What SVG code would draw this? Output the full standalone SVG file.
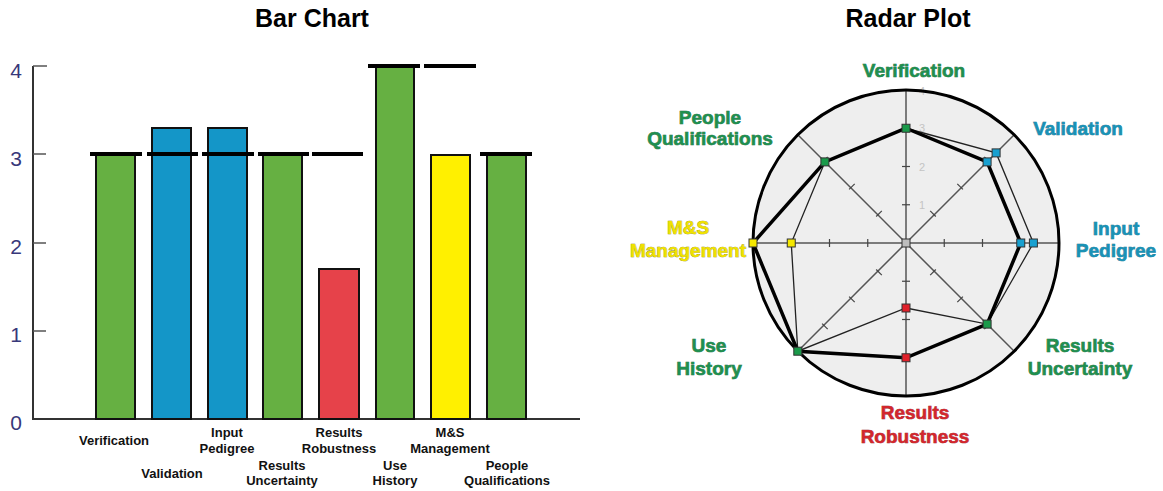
<svg xmlns="http://www.w3.org/2000/svg" width="1163" height="491" viewBox="0 0 1163 491">
<style>
.title{font-family:"Liberation Sans",Arial,sans-serif;font-weight:bold;font-size:25px;fill:#000;text-anchor:middle}
.ynum{font-family:"Liberation Sans",Arial,sans-serif;font-size:21px;fill:#38387a;text-anchor:middle}
.blab{font-family:"Liberation Sans",Arial,sans-serif;font-weight:bold;font-size:13px;fill:#111;text-anchor:middle}
.bar{stroke:#111;stroke-width:2}
.tgt{stroke:#000;stroke-width:4}
.axis{stroke:#333;stroke-width:2;fill:none}
.tick{stroke:#555;stroke-width:1.5}
.rlab{font-family:"Liberation Sans",Arial,sans-serif;font-weight:bold;font-size:19px;text-anchor:middle;stroke-width:0.6;paint-order:stroke}
.g{fill:#1f8f4f;stroke:#14663a}
.b{fill:#1992b6;stroke:#0f6b86}
.r{fill:#d3262d;stroke:#8f1a1f}
.y{fill:#efe100;stroke:#8a8000}
.spoke{stroke:#555;stroke-width:1.5}
.rt{stroke:#444;stroke-width:1.2}
.mk{stroke:#333;stroke-width:1}
.scl{font-family:"Liberation Sans",Arial,sans-serif;font-size:11px;fill:#c4c4c4}
</style>

<text class="title" x="312" y="27">Bar Chart</text>
<text class="title" x="908" y="27">Radar Plot</text>

<g id="bar-axis">
<line class="axis" x1="33" y1="66" x2="33" y2="420"/>
<line class="axis" x1="32" y1="419" x2="580" y2="419"/>
<line class="tick" x1="33" y1="66" x2="47" y2="66"/>
<line class="tick" x1="33" y1="154" x2="46" y2="154"/>
<line class="tick" x1="33" y1="243" x2="46" y2="243"/>
<line class="tick" x1="33" y1="331" x2="46" y2="331"/>
<text class="ynum" x="16" y="78">4</text>
<text class="ynum" x="16" y="166">3</text>
<text class="ynum" x="16" y="254">2</text>
<text class="ynum" x="16" y="342">1</text>
<text class="ynum" x="16" y="430">0</text>
</g>

<g id="bar-verification"><rect class="bar" x="96" y="154" width="39" height="265" fill="#66b042"/></g>
<g id="bar-validation"><rect class="bar" x="152" y="128" width="39" height="291" fill="#1496c8"/></g>
<g id="bar-input-pedigree"><rect class="bar" x="208" y="128" width="39" height="291" fill="#1496c8"/></g>
<g id="bar-results-uncertainty"><rect class="bar" x="263" y="154" width="39" height="265" fill="#66b042"/></g>
<g id="bar-results-robustness"><rect class="bar" x="319" y="269" width="40" height="150" fill="#e6424a"/></g>
<g id="bar-use-history"><rect class="bar" x="376" y="67" width="38" height="352" fill="#66b042"/></g>
<g id="bar-ms-management"><rect class="bar" x="431" y="155" width="39" height="264" fill="#fff000"/></g>
<g id="bar-people-qualifications"><rect class="bar" x="487" y="154" width="39" height="265" fill="#66b042"/></g>

<g id="bar-targets">
<line class="tgt" x1="90" y1="154" x2="142" y2="154"/>
<line class="tgt" x1="147" y1="154" x2="198" y2="154"/>
<line class="tgt" x1="202" y1="154" x2="254" y2="154"/>
<line class="tgt" x1="258" y1="154" x2="309" y2="154"/>
<line class="tgt" x1="312" y1="154" x2="363" y2="154"/>
<line class="tgt" x1="368" y1="66" x2="420" y2="66"/>
<line class="tgt" x1="424" y1="66" x2="476" y2="66"/>
<line class="tgt" x1="480" y1="154" x2="532" y2="154"/>
</g>

<g id="bar-labels">
<text class="blab" x="114" y="445">Verification</text>
<text class="blab" x="172" y="478">Validation</text>
<text class="blab" x="227" y="437">Input</text>
<text class="blab" x="227" y="453">Pedigree</text>
<text class="blab" x="282" y="470">Results</text>
<text class="blab" x="282" y="485">Uncertainty</text>
<text class="blab" x="339" y="437">Results</text>
<text class="blab" x="339" y="453">Robustness</text>
<text class="blab" x="395" y="470">Use</text>
<text class="blab" x="395" y="485">History</text>
<text class="blab" x="450" y="437">M&amp;S</text>
<text class="blab" x="450" y="453">Management</text>
<text class="blab" x="507" y="470">People</text>
<text class="blab" x="507" y="485">Qualifications</text>
</g>

<g id="radar-background">
<circle cx="906" cy="243" r="153" fill="#eeeeee" stroke="none"/>
</g>

<g id="radar-spokes">
<line class="spoke" x1="906" y1="243" x2="906" y2="90"/>
<line class="spoke" x1="906" y1="243" x2="1014.2" y2="134.8"/>
<line class="spoke" x1="906" y1="243" x2="1059" y2="243"/>
<line class="spoke" x1="906" y1="243" x2="1014.2" y2="351.2"/>
<line class="spoke" x1="906" y1="243" x2="906" y2="396"/>
<line class="spoke" x1="906" y1="243" x2="797.8" y2="351.2"/>
<line class="spoke" x1="906" y1="243" x2="753" y2="243"/>
<line class="spoke" x1="906" y1="243" x2="797.8" y2="134.8"/>
<!-- ticks -->
<g class="rt">
<line x1="902" y1="204.75" x2="910" y2="204.75"/><line x1="902" y1="166.5" x2="910" y2="166.5"/><line x1="902" y1="128.25" x2="910" y2="128.25"/>
<line x1="902" y1="281.25" x2="910" y2="281.25"/><line x1="902" y1="319.5" x2="910" y2="319.5"/><line x1="902" y1="357.75" x2="910" y2="357.75"/>
<line x1="944.25" y1="239" x2="944.25" y2="247"/><line x1="982.5" y1="239" x2="982.5" y2="247"/><line x1="1020.75" y1="239" x2="1020.75" y2="247"/>
<line x1="867.75" y1="239" x2="867.75" y2="247"/><line x1="829.5" y1="239" x2="829.5" y2="247"/><line x1="791.25" y1="239" x2="791.25" y2="247"/>
<line x1="930.2" y1="210.9" x2="935.8" y2="216.5"/><line x1="957.3" y1="183.8" x2="962.9" y2="189.4"/><line x1="984.3" y1="156.8" x2="989.9" y2="162.4"/>
<line x1="935.8" y1="269.5" x2="930.2" y2="275.1"/><line x1="962.9" y1="296.6" x2="957.3" y2="302.2"/><line x1="989.9" y1="323.6" x2="984.3" y2="329.2"/>
<line x1="881.8" y1="275.1" x2="876.2" y2="269.5"/><line x1="854.7" y1="302.2" x2="849.1" y2="296.6"/><line x1="827.7" y1="329.2" x2="822.1" y2="323.6"/>
<line x1="876.2" y1="216.5" x2="881.8" y2="210.9"/><line x1="849.1" y1="189.4" x2="854.7" y2="183.8"/><line x1="822.1" y1="162.4" x2="827.7" y2="156.8"/>
</g>
<text class="scl" x="919" y="209">1</text>
<text class="scl" x="919" y="171">2</text>
<text class="scl" x="919" y="132">3</text>
<text class="scl" x="919" y="95">4</text>
</g>

<g id="radar-circle">
<circle cx="906" cy="243" r="153" fill="none" stroke="#000" stroke-width="3"/>
</g>

<g id="radar-polygons">
<polygon points="906,128.25 996.1,152.9 1033.4,243 987.1,324.1 906,308 797.8,351.2 791.25,243 824.9,161.9" fill="none" stroke="#222" stroke-width="1.3" stroke-linejoin="miter"/>
<polygon points="906,128.25 987.1,161.9 1020.75,243 987.1,324.1 906,357.75 797.8,351.2 753,243 824.9,161.9" fill="none" stroke="#000" stroke-width="3.5" stroke-linejoin="miter"/>
</g>

<g id="radar-markers">
<rect class="mk" x="902" y="239" width="8" height="8" fill="#bdbdbd"/>
<rect class="mk" x="902" y="124.25" width="8" height="8" fill="#1a9a4a"/>
<rect class="mk" x="983.1" y="157.9" width="8" height="8" fill="#18a0d0"/>
<rect class="mk" x="992.1" y="148.9" width="8" height="8" fill="#18a0d0"/>
<rect class="mk" x="1016.75" y="239" width="8" height="8" fill="#18a0d0"/>
<rect class="mk" x="1029.4" y="239" width="8" height="8" fill="#18a0d0"/>
<rect class="mk" x="983.1" y="320.1" width="8" height="8" fill="#1a9a4a"/>
<rect class="mk" x="902" y="353.75" width="8" height="8" fill="#e0202a"/>
<rect class="mk" x="902" y="304" width="8" height="8" fill="#e0202a"/>
<rect class="mk" x="793.8" y="347.2" width="8" height="8" fill="#1a9a4a"/>
<rect class="mk" x="749" y="239" width="8" height="8" fill="#f5e800"/>
<rect class="mk" x="787.25" y="239" width="8" height="8" fill="#f5e800"/>
<rect class="mk" x="820.9" y="157.9" width="8" height="8" fill="#1a9a4a"/>
</g>

<g id="radar-labels">
<text class="rlab g" x="914" y="77">Verification</text>
<text class="rlab b" x="1078" y="135">Validation</text>
<text class="rlab b" x="1116" y="235">Input</text>
<text class="rlab b" x="1116" y="257">Pedigree</text>
<text class="rlab g" x="1080" y="352">Results</text>
<text class="rlab g" x="1080" y="375">Uncertainty</text>
<text class="rlab r" x="915" y="419">Results</text>
<text class="rlab r" x="915" y="443">Robustness</text>
<text class="rlab g" x="709" y="352">Use</text>
<text class="rlab g" x="709" y="375">History</text>
<text class="rlab y" x="688" y="234">M&amp;S</text>
<text class="rlab y" x="688" y="257">Management</text>
<text class="rlab g" x="710" y="124">People</text>
<text class="rlab g" x="710" y="145">Qualifications</text>
</g>
</svg>
